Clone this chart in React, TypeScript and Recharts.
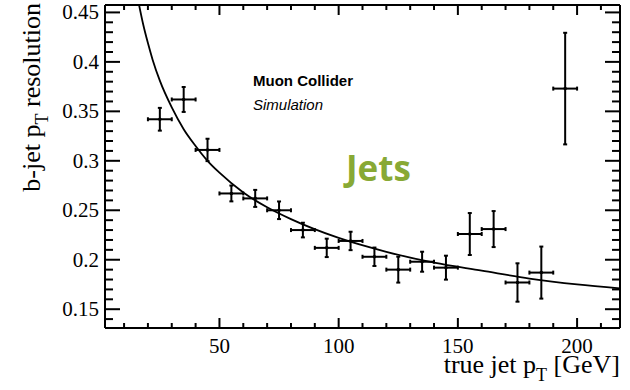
import React from 'react';
import { ComposedChart, Line, Scatter, ErrorBar, XAxis, YAxis } from 'recharts';

// measured bins (true jet pT, GeV)
const binCenter = [25, 35, 45, 55, 65, 75, 85, 95, 105, 115, 125, 135, 145, 155, 165, 175, 185, 195];
const binHalfWidth = [5, 5, 5, 5, 5, 5, 5, 5, 5, 5, 5, 5, 5, 5, 5, 5, 5, 5];
const resolution = [0.342, 0.362, 0.311, 0.267, 0.262, 0.250, 0.230, 0.212, 0.219, 0.203, 0.190, 0.198, 0.192, 0.226, 0.231, 0.177, 0.187, 0.373];
const resolutionErr = [0.0115, 0.0126, 0.0113, 0.008, 0.0086, 0.0089, 0.0074, 0.0093, 0.0093, 0.0093, 0.0131, 0.0101, 0.0121, 0.0212, 0.0182, 0.0194, 0.0263, 0.0564];

// fitted curve
const fitPt = [16, 18, 20, 22, 25, 30, 35, 40, 45, 50, 60, 70, 80, 100, 120, 140, 160, 180, 200, 218];
const fitRes = [0.461, 0.438, 0.419, 0.402, 0.381, 0.354, 0.332, 0.315, 0.300, 0.288, 0.268, 0.253, 0.241, 0.222, 0.208, 0.197, 0.189, 0.181, 0.175, 0.171];

// axis ticks
const xTicks = [10, 20, 30, 40, 50, 60, 70, 80, 90, 100, 110, 120, 130, 140, 150, 160, 170, 180, 190, 200, 210];
const xMajor = [50, 100, 150, 200];
const yTicks = [0.14, 0.15, 0.16, 0.17, 0.18, 0.19, 0.2, 0.21, 0.22, 0.23, 0.24, 0.25, 0.26, 0.27, 0.28, 0.29, 0.3,
  0.31, 0.32, 0.33, 0.34, 0.35, 0.36, 0.37, 0.38, 0.39, 0.4, 0.41, 0.42, 0.43, 0.44, 0.45];
const yMajor = [0.15, 0.2, 0.25, 0.3, 0.35, 0.4, 0.45];

const X_DOMAIN = [2, 218];
const Y_DOMAIN = [0.131, 0.4575];

const SERIF = '"Liberation Serif", "Times New Roman", serif';
const SANS = '"Liberation Sans", Arial, sans-serif';

const points = binCenter.map((x, i) => ({
  x,
  y: resolution[i],
  xErr: binHalfWidth[i],
  yErr: resolutionErr[i],
}));
const fitData = fitPt.map((x, i) => ({ x, y: fitRes[i] }));

const isMajorY = (v: number) => yMajor.some(m => Math.abs(m - v) < 1e-6);
const isMajorX = (v: number) => xMajor.includes(v);

const LeftTick = ({ x, y, payload }: any) => {
  const major = isMajorY(payload.value);
  return (
    <g>
      <line x1={x} x2={x + (major ? 15 : 8)} y1={y} y2={y} stroke="#000" strokeWidth={2} />
      {major && (
        <text x={x - 6} y={y + 7} textAnchor="end" fontSize={21} fontFamily={SERIF} fill="#000">
          {String(payload.value)}
        </text>
      )}
    </g>
  );
};

const RightTick = ({ x, y, payload }: any) => {
  const major = isMajorY(payload.value);
  return <line x1={x} x2={x - (major ? 15 : 8)} y1={y} y2={y} stroke="#000" strokeWidth={2} />;
};

const BottomTick = ({ x, y, payload }: any) => {
  const major = isMajorX(payload.value);
  return (
    <g>
      <line x1={x} x2={x} y1={y} y2={y - (major ? 10 : 5)} stroke="#000" strokeWidth={2} />
      {major && (
        <text x={x} y={y + 25} textAnchor="middle" fontSize={21} fontFamily={SERIF} fill="#000">
          {payload.value}
        </text>
      )}
    </g>
  );
};

const TopTick = ({ x, y, payload }: any) => {
  const major = isMajorX(payload.value);
  return <line x1={x} x2={x} y1={y} y2={y + (major ? 10 : 5)} stroke="#000" strokeWidth={2} />;
};

const XTitle = () => (
  <text x={620} y={373} textAnchor="end" fontSize={26} fontFamily={SERIF} fill="#000">
    true jet p
    <tspan fontSize={18} dy={8}>T</tspan>
    <tspan fontSize={26} dy={-8}> [GeV]</tspan>
  </text>
);

const YTitle = () => (
  <text x={40} y={3} transform="rotate(-90, 40, 3)" textAnchor="end" fontSize={26} fontFamily={SERIF} fill="#000">
    b-jet p
    <tspan fontSize={18} dy={8}>T</tspan>
    <tspan fontSize={26} dy={-8}> resolution</tspan>
  </text>
);

const Dot = ({ cx, cy }: any) => <circle cx={cx} cy={cy} r={1.8} fill="#000" />;

export default function App() {
  return (
    <div style={{ position: 'absolute', left: 0, top: 0, width: 630, height: 390, background: '#fff' }}>
      <ComposedChart width={630} height={390} margin={{ top: 4, right: 0, bottom: 0, left: 0 }}>
        <XAxis
          xAxisId="bottom"
          type="number"
          dataKey="x"
          domain={X_DOMAIN}
          allowDataOverflow
          ticks={xTicks}
          interval={0}
          tick={<BottomTick />}
          tickLine={false}
          tickSize={0}
          tickMargin={0}
          height={62}
          axisLine={{ stroke: '#000', strokeWidth: 2 }}
          label={<XTitle />}
        />
        <XAxis
          xAxisId="top"
          orientation="top"
          type="number"
          dataKey="x"
          domain={X_DOMAIN}
          allowDataOverflow
          ticks={xTicks}
          interval={0}
          tick={<TopTick />}
          tickLine={false}
          tickSize={0}
          tickMargin={0}
          height={1}
          axisLine={{ stroke: '#000', strokeWidth: 2 }}
        />
        <YAxis
          yAxisId="left"
          type="number"
          domain={Y_DOMAIN}
          allowDataOverflow
          ticks={yTicks}
          interval={0}
          tick={<LeftTick />}
          tickLine={false}
          tickSize={0}
          tickMargin={0}
          width={105}
          axisLine={{ stroke: '#000', strokeWidth: 2 }}
          label={<YTitle />}
        />
        <YAxis
          yAxisId="right"
          orientation="right"
          type="number"
          domain={Y_DOMAIN}
          allowDataOverflow
          ticks={yTicks}
          interval={0}
          tick={<RightTick />}
          tickLine={false}
          tickSize={0}
          tickMargin={0}
          width={10}
          axisLine={{ stroke: '#000', strokeWidth: 2 }}
        />
        <Line
          xAxisId="bottom"
          yAxisId="left"
          data={fitData}
          dataKey="y"
          type="monotone"
          stroke="#000"
          strokeWidth={1.8}
          dot={false}
          activeDot={false}
          isAnimationActive={false}
        />
        <Scatter
          xAxisId="bottom"
          yAxisId="left"
          data={points}
          dataKey="y"
          shape={<Dot />}
          isAnimationActive={false}
        >
          <ErrorBar dataKey="xErr" direction="x" stroke="#000" strokeWidth={2} width={2} isAnimationActive={false} />
          <ErrorBar dataKey="yErr" direction="y" stroke="#000" strokeWidth={2} width={2} isAnimationActive={false} />
        </Scatter>
      </ComposedChart>
      <div style={{ position: 'absolute', left: 253, top: 71, fontFamily: SANS, fontWeight: 'bold', fontSize: 15, lineHeight: '19px', color: '#000' }}>
        Muon Collider
      </div>
      <div style={{ position: 'absolute', left: 253, top: 95, fontFamily: SANS, fontStyle: 'italic', fontSize: 15, lineHeight: '19px', color: '#000' }}>
        Simulation
      </div>
      <div style={{ position: 'absolute', left: 346, top: 146, fontFamily: '"Open Sans", sans-serif', fontWeight: 'bold', fontSize: 35, lineHeight: '44px', color: '#88a935' }}>
        Jets
      </div>
    </div>
  );
}
